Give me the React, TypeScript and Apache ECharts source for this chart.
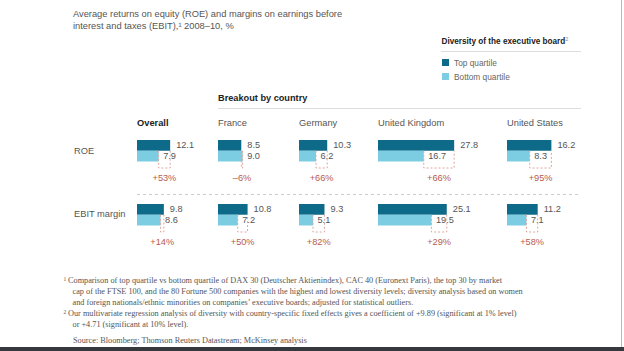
import React, { useEffect, useRef } from 'react';
import * as echarts from 'echarts';

const columns = ['Overall', 'France', 'Germany', 'United Kingdom', 'United States'];
const rowLabels = ['ROE', 'EBIT margin'];
const quartiles = ['Top quartile', 'Bottom quartile'];
const roeTop = [12.1, 8.5, 10.3, 27.8, 16.2];
const roeBottom = [7.9, 9.0, 6.2, 16.7, 8.3];
const roeDiff = ['+53%', '–6%', '+66%', '+66%', '+95%'];
const ebitTop = [9.8, 10.8, 9.3, 25.1, 11.2];
const ebitBottom = [8.6, 7.2, 5.1, 19.5, 7.1];
const ebitDiff = ['+14%', '+50%', '+82%', '+29%', '+58%'];

const titleLines = [
  'Average returns on equity (ROE) and margins on earnings before',
  'interest and taxes (EBIT),¹ 2008–10, %',
];
const legendTitle = 'Diversity of the executive board';
const breakoutTitle = 'Breakout by country';
const footnote1 = [
  'Comparison of top quartile vs bottom quartile of DAX 30 (Deutscher Aktienindex), CAC 40 (Euronext Paris), the top 30 by market',
  'cap of the FTSE 100, and the 80 Fortune 500 companies with the highest and lowest diversity levels; diversity analysis based on women',
  'and foreign nationals/ethnic minorities on companies’ executive boards; adjusted for statistical outliers.',
];
const footnote2 = [
  'Our multivariate regression analysis of diversity with country-specific fixed effects gives a coefficient of +9.89 (significant at 1% level)',
  'or +4.71 (significant at 10% level).',
];
const sourceLine = 'Source: Bloomberg; Thomson Reuters Datastream; McKinsey analysis';

export default function App() {
  const ref = useRef<HTMLDivElement>(null);
  useEffect(() => {
    const chart = echarts.init(ref.current!, null, { renderer: 'svg' });
    const SANS = '"Liberation Sans", Arial, sans-serif';
    const SERIF = '"Liberation Serif", "Times New Roman", serif';
    const DARK = '#0d6a88';
    const LIGHT = '#7dcde2';
    const RED = '#b85a4c';
    const DASH = '#dba79e';
    const TXT = '#555';
    const colLeft = [137, 218, 299, 378, 507];
    const rowTop = [140, 204];
    const barH = 21.5;
    const maxV = 30;
    const gridW = 82.2;
    const rows = [
      { top: roeTop, bottom: roeBottom, diff: roeDiff },
      { top: ebitTop, bottom: ebitBottom, diff: ebitDiff },
    ];
    const grid: any[] = [];
    const xAxis: any[] = [];
    const yAxis: any[] = [];
    const series: any[] = [];
    const valLabel = (dist: number) => ({
      show: true,
      position: 'right',
      distance: dist,
      fontSize: 9.2,
      fontFamily: SANS,
      color: TXT,
      formatter: (p: any) => Number(p.value).toFixed(1),
    });
    rows.forEach((row, r) => {
      columns.forEach((_c, i) => {
        const gi = grid.length;
        grid.push({ left: colLeft[i], top: rowTop[r], width: gridW, height: barH });
        xAxis.push({ type: 'value', gridIndex: gi, min: 0, max: maxV, show: false });
        yAxis.push({ type: 'category', gridIndex: gi, data: quartiles, inverse: true, show: false });
        series.push({
          type: 'bar', name: quartiles[0], xAxisIndex: gi, yAxisIndex: gi, stack: 's' + gi,
          barCategoryGap: 0, data: [row.top[i], '-'], itemStyle: { color: DARK }, label: valLabel(6), silent: true,
        });
        series.push({
          type: 'bar', name: quartiles[1], xAxisIndex: gi, yAxisIndex: gi, stack: 's' + gi,
          barCategoryGap: 0, data: ['-', row.bottom[i]], itemStyle: { color: LIGHT }, label: valLabel(4.5), silent: true,
        });
        const diffText = row.diff[i];
        series.push({
          type: 'custom', xAxisIndex: gi, yAxisIndex: gi, clip: false, silent: true, z: 5,
          encode: { x: [0, 1], y: 2 },
          data: [[row.top[i], row.bottom[i], 0]],
          renderItem: (_params: any, api: any) => {
            const pTop = api.coord([api.value(0), 0]);
            const pBot = api.coord([api.value(1), 1]);
            const band = api.size([0, 1])[1];
            const yMid = pTop[1] + band / 2;
            const yEnd = pBot[1] + band / 2;
            const yBox = yEnd + 6.5;
            return {
              type: 'group',
              children: [
                {
                  type: 'polyline',
                  shape: { points: [[pBot[0], yMid], [pBot[0], yBox], [pTop[0], yBox], [pTop[0], yMid]] },
                  style: { stroke: DASH, fill: null, lineWidth: 1, lineDash: [2, 2] },
                },
                {
                  type: 'text',
                  style: {
                    text: diffText, x: (pTop[0] + pBot[0]) / 2, y: yEnd + 16.5,
                    align: 'center', verticalAlign: 'middle', fill: RED, fontSize: 9.2, fontFamily: SANS,
                  },
                },
              ],
            };
          },
        });
      });
    });

    const text = (x: number, y: number, t: string, size: number, opts: any = {}) => ({
      type: 'text', x, y, silent: true,
      style: {
        text: t, fontSize: size, fontFamily: opts.family || SANS, fill: opts.color || TXT,
        fontWeight: opts.bold ? 'bold' : 'normal', verticalAlign: 'middle', align: opts.align || 'left',
      },
    });
    const graphic: any[] = [];
    graphic.push(text(73, 13.5, titleLines[0], 9.3));
    graphic.push(text(73, 25.5, titleLines[1], 9.3));
    graphic.push({
      type: 'text', x: 441.5, y: 41, silent: true,
      style: {
        text: '{b|' + legendTitle + '}{s|2}', verticalAlign: 'middle',
        rich: {
          b: { fontSize: 8.2, fontWeight: 'bold', fontFamily: SANS, fill: '#222' },
          s: { fontSize: 5.5, fontFamily: SANS, fill: '#888', verticalAlign: 'top', padding: [0, 0, 5, 0] },
        },
      },
    });
    graphic.push({ type: 'line', silent: true, shape: { x1: 441, y1: 51.5, x2: 581, y2: 51.5 }, style: { stroke: '#ddd', lineWidth: 1 } });
    graphic.push(text(218, 97.5, breakoutTitle, 9.2, { bold: true, color: '#222' }));
    graphic.push({ type: 'line', silent: true, shape: { x1: 218, y1: 108.5, x2: 581, y2: 108.5 }, style: { stroke: '#ddd', lineWidth: 1 } });
    columns.forEach((c, i) => {
      graphic.push(text(colLeft[i], 123, c, 9.3, i === 0 ? { bold: true, color: '#222' } : {}));
    });
    graphic.push(text(74, 150.5, rowLabels[0], 9.3));
    graphic.push(text(74, 214, rowLabels[1], 9.3));
    graphic.push({
      type: 'line', silent: true, shape: { x1: 137, y1: 194.5, x2: 581, y2: 194.5 },
      style: { stroke: '#ccc', lineWidth: 1, lineDash: [3, 3] },
    });
    const FN = 8.25;
    const fnY = [280.5, 291.5, 302.5];
    graphic.push(text(63.5, fnY[0] - 2, '1', 5.5, { family: SERIF }));
    footnote1.forEach((l, k) => graphic.push(text(k === 0 ? 68 : 72.5, fnY[k], l, FN, { family: SERIF })));
    const fn2Y = [313.5, 324.5];
    graphic.push(text(63.5, fn2Y[0] - 2, '2', 5.5, { family: SERIF }));
    footnote2.forEach((l, k) => graphic.push(text(k === 0 ? 68 : 72.5, fn2Y[k], l, FN, { family: SERIF })));
    graphic.push(text(73, 340, sourceLine, FN, { family: SERIF }));
    graphic.push({ type: 'rect', silent: true, shape: { x: 0, y: 347, width: 624, height: 4 }, style: { fill: '#35383d' } });
    graphic.push({ type: 'line', silent: true, shape: { x1: 621.5, y1: 0, x2: 621.5, y2: 347 }, style: { stroke: '#c9b7a6', lineWidth: 1 } });

    chart.setOption({
      animation: false,
      backgroundColor: '#fff',
      legend: {
        data: quartiles, orient: 'vertical', left: 442, top: 58.5, padding: 0,
        itemWidth: 7, itemHeight: 7, itemGap: 6, icon: 'rect', selectedMode: false,
        textStyle: { fontSize: 8.3, color: '#666', fontFamily: SANS },
      },
      grid, xAxis, yAxis, series, graphic,
    });
    return () => chart.dispose();
  }, []);
  return <div ref={ref} style={{ position: 'fixed', left: 0, top: 0, width: 624, height: 351 }} />;
}
